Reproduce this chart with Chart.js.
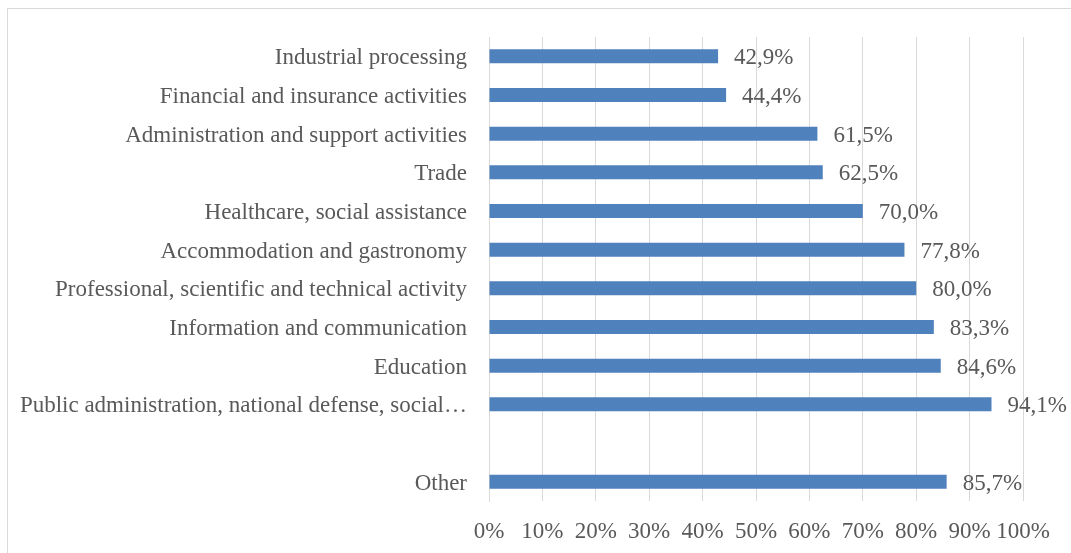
<!DOCTYPE html>
<html>
<head>
<meta charset="utf-8">
<script src="https://cdn.jsdelivr.net/npm/chart.js@4"></script>
<style>
    html, body { margin: 0; padding: 0; background: #fff; }
    #frame {
        position: absolute; left: 7px; top: 8px; width: 1100px; height: 600px;
        border-top: 1px solid #D9D9D9; border-left: 1px solid #D9D9D9;
    }
    #wrap { position: absolute; left: 0; top: 0; width: 1071px; height: 553px; }
</style>
</head>
<body>
<div id="frame"></div>
<div id="wrap"><canvas id="chart"></canvas></div>
<script>
const categories = [
    "Industrial processing",
    "Financial and insurance activities",
    "Administration and support activities",
    "Trade",
    "Healthcare, social assistance",
    "Accommodation and gastronomy",
    "Professional, scientific and technical activity",
    "Information and communication",
    "Education",
    "Public administration, national defense, social\u2026",
    "",
    "Other"
];
const shares = [42.9, 44.4, 61.5, 62.5, 70.0, 77.8, 80.0, 83.3, 84.6, 94.1, null, 85.7];
const xTicks = [0, 10, 20, 30, 40, 50, 60, 70, 80, 90, 100];

const textColor = "#595959";
const gridColor = "#D9D9D9";
const font = { family: "'Liberation Serif', 'Times New Roman', serif", size: 23 };

function formatPct(v) {
    return v.toFixed(1).replace(".", ",") + "%";
}

// values at the end of each bar
const valueLabels = {
    id: "valueLabels",
    afterDatasetsDraw(chart) {
        const ctx = chart.ctx;
        const meta = chart.getDatasetMeta(0);
        ctx.save();
        ctx.font = font.size + "px " + font.family;
        ctx.fillStyle = textColor;
        ctx.textAlign = "left";
        ctx.textBaseline = "middle";
        meta.data.forEach(function (bar, i) {
            const v = shares[i];
            if (v === null) return;
            ctx.fillText(formatPct(v), bar.x + 16, bar.y + 2);
        });
        ctx.restore();
    }
};

new Chart(document.getElementById("chart"), {
    type: "bar",
    data: {
        labels: categories,
        datasets: [{
            data: shares,
            backgroundColor: "#4F81BD",
            borderWidth: 0,
            barPercentage: 0.36,
            categoryPercentage: 1
        }]
    },
    options: {
        indexAxis: "y",
        responsive: true,
        maintainAspectRatio: false,
        animation: false,
        layout: { padding: { top: 37, right: 48, bottom: 0, left: 0 } },
        plugins: {
            legend: { display: false },
            tooltip: { enabled: false },
            title: { display: false }
        },
        scales: {
            x: {
                min: 0,
                max: 100,
                afterBuildTicks(scale) {
                    scale.ticks = xTicks.map(v => ({ value: v }));
                },
                afterFit(scale) { scale.height = 52; },
                grid: { color: gridColor, lineWidth: 1, drawTicks: false },
                border: { display: false },
                ticks: {
                    color: textColor,
                    font: font,
                    padding: 17,
                    maxRotation: 0,
                    autoSkip: false,
                    callback: v => v + "%"
                }
            },
            y: {
                afterFit(scale) { scale.width = 489; },
                grid: { display: false, drawTicks: false },
                border: { display: true, color: gridColor, width: 1 },
                ticks: { color: textColor, font: font, padding: 22, labelOffset: 2, autoSkip: false }
            }
        }
    },
    plugins: [valueLabels]
});
</script>
</body>
</html>
